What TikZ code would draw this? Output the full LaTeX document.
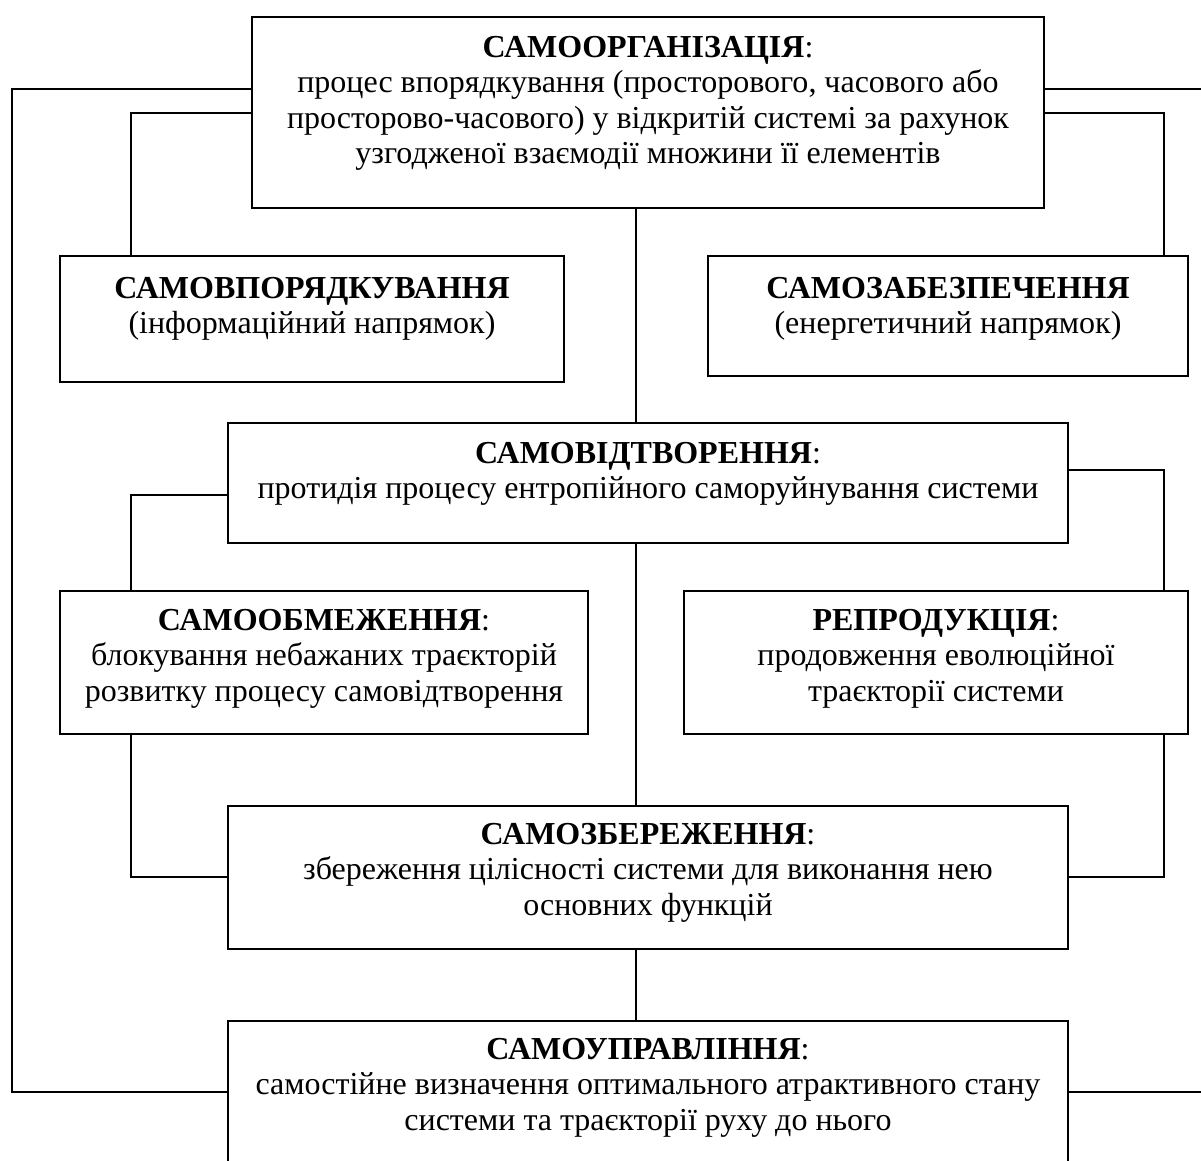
\documentclass[tikz,border=0pt]{standalone}
\usepackage{fontspec}
\setmainfont{Liberation Serif}
\tikzset{
  boxnode/.style={draw, line width=1.6pt, rectangle, inner sep=0pt},
  txt/.style={anchor=base, inner sep=0pt, font=\fontsize{32}{35.5}\selectfont},
  conn/.style={line width=1.6pt}
}
\newcommand\boxtext[1]{\parbox[t]{1000pt}{\centering #1}}
\begin{document}
\begin{tikzpicture}[x=1pt,y=-1pt]
\clip (0,0) rectangle (1201,1160);
\fill[white] (0,0) rectangle (1201,1160);
% boxes
\node[boxnode, minimum width=792pt, minimum height=191pt] (top) at (648,112.5) {};
\node[boxnode, minimum width=504pt, minimum height=126pt] (vpor) at (312,319) {};
\node[boxnode, minimum width=480pt, minimum height=120pt] (zabez) at (948,316) {};
\node[boxnode, minimum width=840pt, minimum height=120pt] (vidtv) at (648,483) {};
\node[boxnode, minimum width=528pt, minimum height=143pt] (obmezh) at (324,662.5) {};
\node[boxnode, minimum width=504pt, minimum height=143pt] (repro) at (936,662.5) {};
\node[boxnode, minimum width=840pt, minimum height=143pt] (zber) at (648,877.5) {};
\node[boxnode, minimum width=840pt, minimum height=179pt] (uprav) at (648,1110.5) {};
% texts
\node[txt] (ttop) at (648,57) {\boxtext{\textbf{САМООРГАНІЗАЦІЯ}:\\процес впорядкування (просторового, часового або\\просторово-часового) у відкритій системі за рахунок\\узгодженої взаємодії множини її елементів}};
\node[txt] (tvpor) at (312,298) {\boxtext{\textbf{САМОВПОРЯДКУВАННЯ}\\(інформаційний напрямок)}};
\node[txt] (tzabez) at (948,298) {\boxtext{\textbf{САМОЗАБЕЗПЕЧЕННЯ}\\(енергетичний напрямок)}};
\node[txt] (tvidtv) at (648,463) {\boxtext{\textbf{САМОВІДТВОРЕННЯ}:\\протидія процесу ентропійного саморуйнування системи}};
\node[txt] (tobmezh) at (324,630) {\boxtext{\textbf{САМООБМЕЖЕННЯ}:\\блокування небажаних траєкторій\\розвитку процесу самовідтворення}};
\node[txt] (trepro) at (936,630) {\boxtext{\textbf{РЕПРОДУКЦІЯ}:\\продовження еволюційної\\траєкторії системи}};
\node[txt] (tzber) at (648,844) {\boxtext{\textbf{САМОЗБЕРЕЖЕННЯ}:\\збереження цілісності системи для виконання нею\\основних функцій}};
\node[txt] (tuprav) at (648,1059) {\boxtext{\textbf{САМОУПРАВЛІННЯ}:\\самостійне визначення оптимального атрактивного стану\\системи та траєкторії руху до нього}};
% connectors
\draw[conn] (top.west |- 0,89) -- (12,89) |- (uprav.west |- 0,1092);
\draw[conn] (top.east |- 0,89) -- (1215,89) |- (uprav.east |- 0,1092);
\draw[conn] (top.west |- 0,113) -| (vpor.north -| 131,0);
\draw[conn] (top.east |- 0,113) -| (zabez.north -| 1164,0);
\draw[conn] (top.south -| 636,0) -- (vidtv.north -| 636,0);
\draw[conn] (vidtv.west |- 0,495) -| (obmezh.north -| 131,0);
\draw[conn] (vidtv.east |- 0,470) -| (repro.north -| 1164,0);
\draw[conn] (vidtv.south -| 636,0) -- (zber.north -| 636,0);
\draw[conn] (obmezh.south -| 131,0) |- (zber.west |- 0,877);
\draw[conn] (repro.south -| 1164,0) |- (zber.east |- 0,877);
\draw[conn] (zber.south -| 636,0) -- (uprav.north -| 636,0);
\end{tikzpicture}
\end{document}
